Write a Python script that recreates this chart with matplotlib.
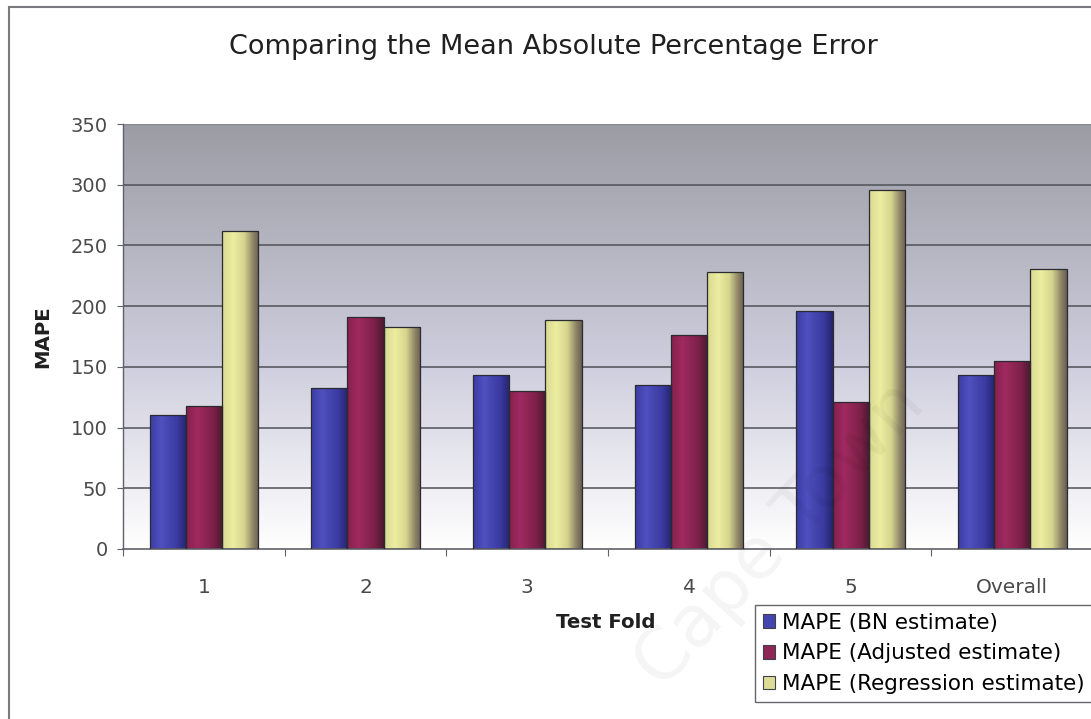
import numpy as np
import matplotlib
matplotlib.use("Agg")
import matplotlib.pyplot as plt
from matplotlib.patches import Rectangle, Patch
from matplotlib.colors import LinearSegmentedColormap

plt.rcParams['font.family'] = ['DejaVu Sans']

# Data
folds = ["1", "2", "3", "4", "5", "Overall"]
mape_bn = [110, 133, 143, 135, 196, 143]
mape_adjusted = [118, 191, 130, 176, 121, 155]
mape_regression = [262, 183, 189, 228, 296, 231]
series_names = ["MAPE (BN estimate)", "MAPE (Adjusted estimate)", "MAPE (Regression estimate)"]
y_ticks = [0, 50, 100, 150, 200, 250, 300, 350]

# Horizontal shading profiles for each bar colour (left -> right)
bar_shades = [
    [(0.0, "#3c3ca6"), (0.3, "#5050c0"), (0.75, "#3a3aa0"), (1.0, "#25256e")],
    [(0.0, "#86204e"), (0.3, "#a02a60"), (0.75, "#7c2048"), (1.0, "#4a1a30")],
    [(0.0, "#d8d890"), (0.3, "#eeeea2"), (0.6, "#d6d48e"), (0.85, "#8e8468"), (1.0, "#6a6050")],
]
legend_colors = ["#4545b0", "#8e2656", "#dcdc98"]

fig = plt.figure(figsize=(10.91, 7.19), dpi=100)
fig.patch.set_facecolor("white")

ax = fig.add_axes([123 / 1091, 1 - 549 / 719, 1 - 123 / 1091 + 0.002, (549 - 124) / 719])
ax.set_xlim(-0.5, 5.5)
ax.set_ylim(0, 350)

# Plot-area background: grey at the top fading to white at the bottom
grad = np.linspace(0, 1, 256)
top = np.array([156, 156, 164]) / 255
mid = np.array([205, 204, 220]) / 255
bot = np.array([255, 255, 255]) / 255
bg = np.zeros((256, 1, 3))
for i, t in enumerate(grad):
    if t < 0.55:
        c = top + (mid - top) * (t / 0.55)
    else:
        c = mid + (bot - mid) * ((t - 0.55) / 0.45)
    bg[i, 0] = c
ax.imshow(bg, extent=(-0.5, 5.5, 0, 350), aspect="auto", zorder=0, origin="upper")

for yv in y_ticks[1:-1]:
    ax.axhline(yv, color="#505058", lw=1.1, zorder=1)
ax.axhline(350, color="#8a8a90", lw=1.0, zorder=1)

width = 0.224
offsets = [-width, 0, width]
series = [mape_bn, mape_adjusted, mape_regression]
x = np.arange(len(folds))
for s, (vals, off) in enumerate(zip(series, offsets)):
    cmap = LinearSegmentedColormap.from_list(f"shade{s}", bar_shades[s])
    hgrad = np.linspace(0, 1, 64)[None, :]
    bars = ax.bar(x + off, vals, width=width, color="none", edgecolor="#2a2a30",
                  linewidth=0.9, zorder=3)
    for bar in bars:
        x0, y0 = bar.get_x(), bar.get_y()
        w, h = bar.get_width(), bar.get_height()
        im = ax.imshow(hgrad, cmap=cmap, extent=(x0, x0 + w, y0, y0 + h),
                       aspect="auto", zorder=2, interpolation="bilinear")
        clip = Rectangle((x0, y0), w, h, transform=ax.transData)
        im.set_clip_path(clip)
ax.set_xlim(-0.5, 5.5)
ax.set_ylim(0, 350)

# Axes styling
for side in ["top", "right"]:
    ax.spines[side].set_visible(False)
ax.spines["left"].set_color("#606068")
ax.spines["bottom"].set_color("#606068")
ax.spines["left"].set_linewidth(1.0)
ax.spines["bottom"].set_linewidth(1.2)

ax.set_yticks(y_ticks)
ax.set_yticklabels([str(v) for v in y_ticks])
ax.tick_params(axis="y", direction="out", length=4, width=0.8, color="#606068",
               pad=7, labelsize=14, labelcolor="#4a4a4a")
ax.set_xticks(x)
ax.set_xticklabels(folds)
ax.tick_params(axis="x", which="major", length=0, pad=21, labelsize=14.5,
               labelcolor="#4a4a4a")
ax.set_xticks(np.arange(-0.5, 6.0, 1.0), minor=True)
ax.tick_params(axis="x", which="minor", direction="out", length=5, width=0.8,
               color="#606068")

fig.text(553 / 1091, 1 - 47 / 719, "Comparing the Mean Absolute Percentage Error",
         ha="center", va="center", fontsize=19.5, color="#202020")
fig.text(43 / 1091, 1 - 337 / 719, "MAPE", rotation=90, ha="center", va="center",
         fontsize=14.2, fontweight="bold", color="#202020")
fig.text(606 / 1091, 1 - 622 / 719, "Test Fold", ha="center", va="center",
         fontsize=14.2, fontweight="bold", color="#202020")

handles = [Patch(facecolor=c, edgecolor="#404048", linewidth=0.8) for c in legend_colors]
leg = fig.legend(handles, series_names, loc="upper left",
                 bbox_to_anchor=(755 / 1091, 1 - 605 / 719),
                 fontsize=15.5, frameon=True, fancybox=False, edgecolor="#404048",
                 handlelength=0.6, handleheight=0.6, handletextpad=0.3,
                 labelspacing=0.5, borderpad=0.35, borderaxespad=0)
leg.get_frame().set_linewidth(1.0)

# Faint diagonal watermark
wm = fig.text(780 / 1091, 1 - 535 / 719, "Cape Town", rotation=47, ha="center", va="center",
              fontsize=52, color="#000000", alpha=0.045)
wm.set_zorder(10)

# Outer chart border
fig.add_artist(Rectangle((9 / 1091, -0.05), 1.2, 1 - 7 / 719 + 0.05,
                         transform=fig.transFigure, fill=False,
                         edgecolor="#7a7a80", linewidth=1.5))

fig.savefig("out.png", dpi=100)
